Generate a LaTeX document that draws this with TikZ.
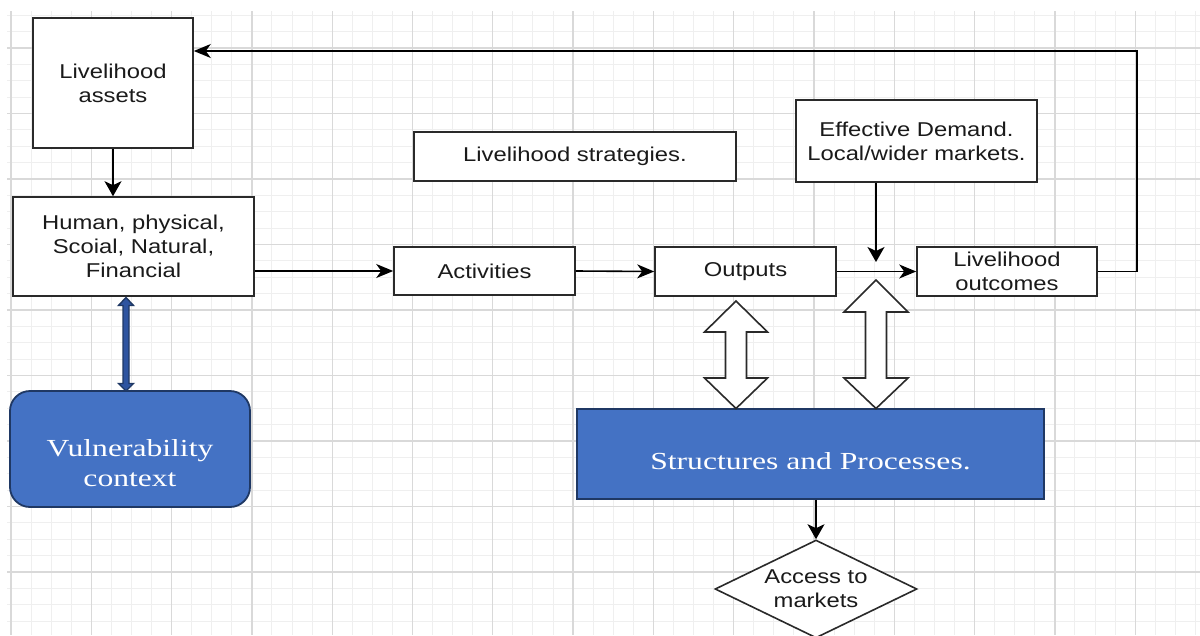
\documentclass[tikz,border=0pt]{standalone}
\usepackage{fontspec}
\usetikzlibrary{arrows.meta,shapes.geometric,calc}
\newfontfamily\sansw[FakeStretch=1.19]{Liberation Sans}
\newfontfamily\serifw[FakeStretch=1.29]{Liberation Serif}
\definecolor{gmaj}{HTML}{D9D9D9}
\definecolor{gmin}{HTML}{EFEFEF}
\definecolor{boxc}{HTML}{2A2A2A}
\definecolor{txt}{HTML}{1A1A1A}
\definecolor{bfill}{HTML}{4472C4}
\definecolor{navy}{HTML}{1F3864}
\definecolor{darr}{HTML}{2E54A0}
\tikzset{
  gminor/.style={draw=gmin, line width=1pt},
  gmajor/.style={draw=gmaj, line width=1.3pt},
  box/.style={draw=boxc, line width=1.6pt, fill=white, inner sep=0pt,
    font=\sansw\fontsize{20}{24}\selectfont, text=txt, align=center},
  bluebox/.style={draw=navy, line width=1.8pt, fill=bfill, inner sep=0pt},
  btext/.style={font=\serifw\fontsize{24.5}{30}\selectfont, text=white, align=center, inner sep=0pt},
  conn/.style={draw=black, line width=1.6pt},
  harrow/.style={conn, -{Stealth[length=17pt,width=14pt,inset=5pt]}},
  varrow/.style={conn, -{Stealth[length=15pt,width=17pt,inset=4pt]}},
  hollow/.style={draw=boxc, line width=1.6pt, fill=white, line join=miter},
  bluearrow/.style={draw=navy, line width=1.4pt, fill=darr}
}
\begin{document}
\begin{tikzpicture}[x=1pt,y=-1pt]
\useasboundingbox (0,0) rectangle (1200,635);
\fill[white] (0,0) rectangle (1200,635);
% grid
\begin{scope}
\clip (7,11) rectangle (1200,635);
\foreach \i in {0,...,60} \draw[gminor] ({11+20.075*\i},11) -- ({11+20.075*\i},635);
\foreach \i in {-3,...,36} \draw[gminor] (7,{48+16.375*\i}) -- (1200,{48+16.375*\i});
\foreach \i in {0,...,15} \draw[gmajor] ({11+80.3*\i},11) -- ({11+80.3*\i},635);
\foreach \i in {-1,...,9} \draw[gmajor] (7,{48+65.5*\i}) -- (1200,{48+65.5*\i});
\end{scope}

% nodes
\node[box, minimum width=160pt, minimum height=130pt] (assets) at (113,83) {Livelihood\\assets};
\node[box, minimum width=241pt, minimum height=99pt] (human) at (133.5,246.5) {Human, physical,\\Scoial, Natural,\\Financial};
\node[box, minimum width=181pt, minimum height=48pt] (act) at (484.5,271) {Activities};
\node[box, minimum width=181pt, minimum height=49pt] (outp) at (745.5,271.5) {Outputs};
\node[box, minimum width=180pt, minimum height=49pt] (outc) at (1007,271.5) {Livelihood\\outcomes};
\node[box, minimum width=322pt, minimum height=49pt] (strat) at (575,156.5) {Livelihood strategies.};
\node[box, minimum width=241pt, minimum height=82pt] (ed) at (916.5,141) {Effective Demand.\\Local/wider markets.};
\node[bluebox, rounded corners=20pt, minimum width=240pt, minimum height=116pt] (vul) at (130,449) {};
\node[btext] (vultext) at (130,463) {Vulnerability\\context};
\node[bluebox, minimum width=467pt, minimum height=90pt] (sp) at (810.5,454) {};
\node[btext] (sptext) at (810.5,461) {Structures and Processes.};
\node[box, diamond, aspect=2.06, minimum width=202pt, minimum height=98pt] (acc) at (816,589) {Access to\\markets};

% coordinates
\coordinate (fb) at (1137,51);
\coordinate (edtip) at (876,262);

% connectors
\draw[varrow] (assets.south) -- (assets.south |- human.north);
\draw[harrow] (act.west -| human.east) -- (act.west);
\draw[harrow] (act.east) -- (outp.west);
\draw[harrow] (outp.east) -- (outc.west);
\draw[harrow] (outc.east) -| (fb) -- (fb -| assets.east);
\draw[varrow] (ed.south -| edtip) -- (edtip);
\draw[varrow] (acc.north |- sp.south) -- (acc.north);

% blue double arrow between human and vulnerability
\draw[bluearrow] (126,297.5) -- (133.5,305.5) -- (129,305.5) -- (129,383.5) -- (133.5,383.5)
  -- (126,391) -- (118.5,383.5) -- (123,383.5) -- (123,305.5) -- (118.5,305.5) -- cycle;

% hollow double arrows
\draw[hollow] (736,301) -- (767.5,332) -- (746.5,332) -- (746.5,378) -- (767.5,378)
  -- (736,408.5) -- (704.5,378) -- (725.5,378) -- (725.5,332) -- (704.5,332) -- cycle;
\draw[hollow] (876,280) -- (908,312) -- (886.5,312) -- (886.5,378) -- (908,378)
  -- (876,408.5) -- (844,378) -- (865.5,378) -- (865.5,312) -- (844,312) -- cycle;
\end{tikzpicture}
\end{document}
